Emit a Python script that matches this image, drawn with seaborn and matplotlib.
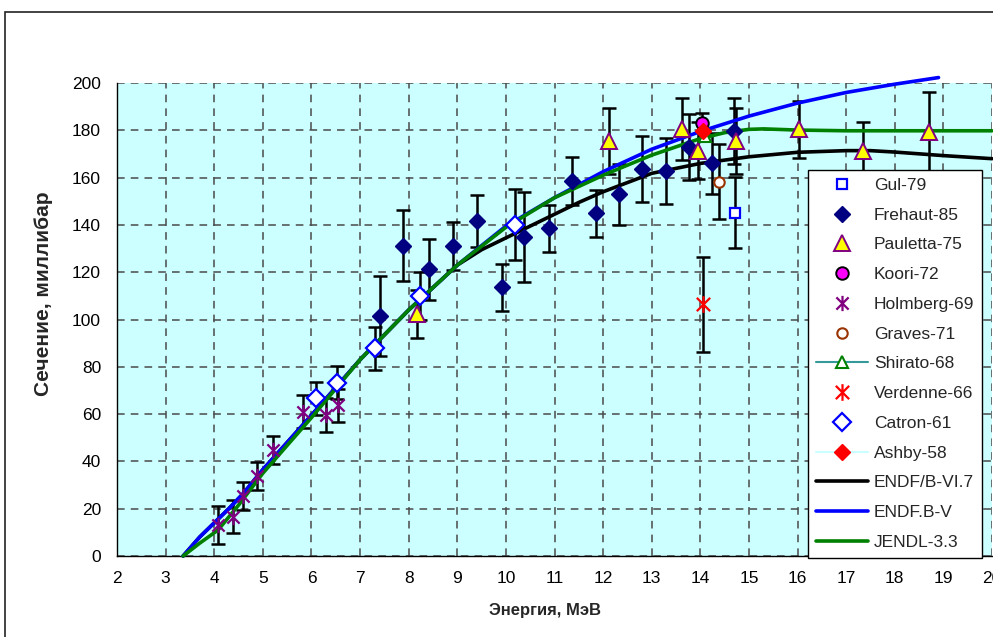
import matplotlib
matplotlib.use("Agg")
import matplotlib.pyplot as plt
import seaborn as sns
import pandas as pd
from matplotlib.path import Path
from matplotlib.patches import Rectangle
from matplotlib.lines import Line2D

sns.set_theme(style="white")
plt.rcParams['font.family'] = ['Liberation Sans', 'DejaVu Sans']

# ---- experimental data: energy (MeV), cross section (mb), error (mb) ----
gul_e = [14.72]
gul_s = [145.2]
gul_d = [15]

frehaut_e = [7.40, 7.89, 8.41, 8.91, 9.40, 9.91, 10.37, 10.89, 11.36, 11.86,
             12.32, 12.80, 13.30, 13.77, 14.24, 14.70]
frehaut_s = [101.6, 131.1, 121.2, 131.1, 141.8, 113.6, 134.8, 138.5, 158.6, 144.9,
             152.9, 163.5, 162.9, 172.8, 166.0, 179.8]
frehaut_d = [17, 15, 13, 10, 11, 10, 19, 10, 10, 10, 13, 14, 14, 14, 13, 14]

pauletta_e = [8.17, 12.13, 13.63, 13.96, 14.73, 16.02, 17.34, 18.71]
pauletta_s = [102.3, 175.6, 180.5, 171.4, 175.6, 180.4, 171.4, 179.4]
pauletta_d = [10, 14, 13, 12, 14, 12, 12, 17]

koori_e = [14.04]
koori_s = [183.2]
koori_d = [4]

holmberg_e = [4.08, 4.38, 4.60, 4.87, 5.20, 5.83, 6.29, 6.54]
holmberg_s = [13.1, 16.6, 25.5, 33.8, 44.8, 61.0, 59.6, 63.8]
holmberg_d = [8, 7, 6, 6, 6, 7, 7, 7]

graves_e = [14.39]
graves_s = [158.3]
graves_d = [15.8]

shirato_e = [14.10]
shirato_s = [177.5]

verdenne_e = [14.05]
verdenne_s = [106.4]
verdenne_d = [20]

catron_e = [6.09, 6.53, 7.31, 8.23, 10.19]
catron_s = [66.7, 73.3, 87.8, 109.9, 140.0]
catron_d = [7, 7, 9, 10, 15]

ashby_e = [14.06]
ashby_s = [179.7]

# ---- evaluated curves ----
endf6_e = [3.36, 3.7, 4.0, 4.3, 4.6, 5.0, 6.0, 7.0, 8.0, 9.0, 9.5, 10.0, 10.5,
           11.0, 11.5, 12.0, 13.0, 14.0, 15.0, 16.0, 17.0, 17.5, 18.0, 19.0, 20.0]
endf6_s = [0, 8, 14, 20, 26.5, 36.5, 59.5, 83, 104, 123, 129.5, 134.5, 139.5,
           144.5, 149.5, 154, 161.8, 166, 168.8, 170.7, 171.4, 171.4, 170.8, 169.3, 168]

endf5_e = [3.36, 3.7, 4.0, 4.3, 4.6, 5.0, 6.0, 7.0, 8.0, 9.0, 10.0, 11.0, 12.0,
           13.0, 14.0, 15.0, 16.0, 17.0, 18.0, 18.9]
endf5_s = [0, 8, 14, 20, 26.5, 36.5, 59.5, 83, 104, 123, 139.5, 151.5, 162.5,
           172, 179.5, 186, 191.5, 196, 199.5, 202.3]

jendl_e = [3.36, 3.7, 4.08, 4.5, 5.0, 6.0, 7.0, 8.0, 9.0, 10.0, 11.0, 12.0, 13.0,
           14.0, 14.5, 15.0, 15.3, 16.0, 17.0, 18.0, 19.0, 20.0]
jendl_s = [0, 5.4, 11, 21.5, 35, 58.5, 83, 104, 123, 139, 151.5, 161, 169.5,
           176.5, 179, 180.4, 180.6, 180.1, 179.8, 179.8, 179.8, 179.8]

W, H = 993, 637
fig = plt.figure(figsize=(W / 100, H / 100), dpi=100)
fig.patch.set_facecolor('white')

# chart frame
fig.patches.append(Rectangle((5 / W, -0.1), 1.2, 1 - 12 / H + 0.1,
                             transform=fig.transFigure, fill=False,
                             edgecolor='#222222', linewidth=1.2))

ax = fig.add_axes([117 / W, 1 - 556 / H, (992 - 117) / W, (556 - 83) / H])
ax.set_facecolor('#CCFFFF')
ax.set_xlim(2, 20)
ax.set_ylim(0, 200)
ax.set_xticks(range(2, 21))
ax.set_yticks(range(0, 201, 20))
ax.grid(True, color='#4a4a4a', linestyle=(0, (5, 4)), linewidth=1.1)
ax.set_axisbelow(True)
for s in ['top', 'right']:
    ax.spines[s].set_visible(False)
for s in ['left', 'bottom']:
    ax.spines[s].set_color('black')
    ax.spines[s].set_linewidth(1.0)
ax.tick_params(axis='both', direction='inout', length=9, width=1,
               colors='black', labelsize=12.5)
ax.tick_params(axis='x', pad=6)
ax.tick_params(axis='y', pad=7)

# error bars
err_sets = [(gul_e, gul_s, gul_d), (frehaut_e, frehaut_s, frehaut_d),
            (pauletta_e, pauletta_s, pauletta_d), (koori_e, koori_s, koori_d),
            (holmberg_e, holmberg_s, holmberg_d), (graves_e, graves_s, graves_d),
            (verdenne_e, verdenne_s, verdenne_d), (catron_e, catron_s, catron_d)]
for e, s, d in err_sets:
    ax.errorbar(e, s, yerr=d, fmt='none', ecolor='black', elinewidth=1.8,
                capsize=5, capthick=1.8, zorder=2)

# evaluated curves
curves = [('ENDF/B-VI.7', endf6_e, endf6_s, 'black'),
          ('ENDF.B-V', endf5_e, endf5_s, '#0000FF'),
          ('JENDL-3.3', jendl_e, jendl_s, '#008000')]
for name, e, s, c in curves:
    df = pd.DataFrame({'E': e, 'sigma': s})
    sns.lineplot(data=df, x='E', y='sigma', color=c, linewidth=2.6,
                 sort=False, estimator=None, ax=ax, zorder=3)
    ax.lines[-1].set_clip_on(False)
ax.set_xlabel('')
ax.set_ylabel('')

star = Path([(-1, -1), (1, 1), (-1, 1), (1, -1), (0, -1.25), (0, 1.25)],
            [Path.MOVETO, Path.LINETO] * 3)

styles = {
    'Gul-79': dict(marker='s', ms=7, mfc='white', mec='#0000FF', mew=1.6, ls='none'),
    'Frehaut-85': dict(marker='D', ms=8, mfc='#000080', mec='#000080', mew=1, ls='none'),
    'Pauletta-75': dict(marker='^', ms=11, mfc='#FFFF00', mec='#800080', mew=1.4, ls='none'),
    'Koori-72': dict(marker='o', ms=9, mfc='#FF00FF', mec='black', mew=1.4, ls='none'),
    'Holmberg-69': dict(marker=star, ms=11, mfc='none', mec='#800080', mew=1.6, ls='none'),
    'Graves-71': dict(marker='o', ms=7.5, mfc='white', mec='#993300', mew=1.5, ls='none'),
    'Shirato-68': dict(marker='^', ms=9, mfc='white', mec='#008000', mew=1.5,
                       ls='-', color='#339999', lw=1.5),
    'Verdenne-66': dict(marker=star, ms=12, mfc='none', mec='#FF0000', mew=1.6, ls='none'),
    'Catron-61': dict(marker='D', ms=9, mfc='white', mec='#0000FF', mew=1.6, ls='none'),
    'Ashby-58': dict(marker='D', ms=8.5, mfc='#FF0000', mec='#FF0000', mew=1,
                     ls='-', color='#CCFFFF', lw=1.5),
}
points = [('Gul-79', gul_e, gul_s), ('Frehaut-85', frehaut_e, frehaut_s),
          ('Pauletta-75', pauletta_e, pauletta_s), ('Shirato-68', shirato_e, shirato_s),
          ('Koori-72', koori_e, koori_s), ('Holmberg-69', holmberg_e, holmberg_s),
          ('Graves-71', graves_e, graves_s), ('Verdenne-66', verdenne_e, verdenne_s),
          ('Catron-61', catron_e, catron_s), ('Ashby-58', ashby_e, ashby_s)]
for name, e, s in points:
    ax.plot(e, s, zorder=4, **styles[name])

order = ['Gul-79', 'Frehaut-85', 'Pauletta-75', 'Koori-72', 'Holmberg-69',
         'Graves-71', 'Shirato-68', 'Verdenne-66', 'Catron-61', 'Ashby-58']
handles = [Line2D([], [], **styles[n]) for n in order]
labels = list(order)
for name, e, s, c in curves:
    handles.append(Line2D([], [], color=c, lw=2.6))
    labels.append(name)

leg = ax.legend(handles, labels, loc='upper left',
                bbox_to_anchor=(808 / W, 1 - 170 / H), bbox_transform=fig.transFigure,
                borderaxespad=0, frameon=True, fancybox=False, fontsize=12.5,
                handlelength=3.0, handletextpad=0.35, labelspacing=0.84,
                borderpad=0.45, framealpha=1)
leg.get_frame().set_edgecolor('black')
leg.get_frame().set_linewidth(1.0)
leg.set_zorder(10)

fig.text(545 / W, 1 - 610 / H, 'Энергия, МэВ', ha='center', va='center',
         fontsize=12, fontweight='bold')
fig.text(44 / W, 1 - 294 / H, 'Сечение, миллибар', ha='center', va='center',
         rotation=90, fontsize=15, fontweight='bold')

fig.savefig('out.png', dpi=100)
